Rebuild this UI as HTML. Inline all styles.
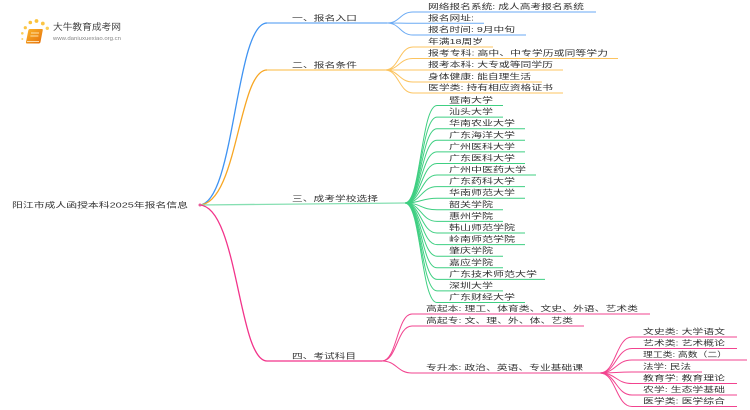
<!DOCTYPE html>
<html><head><meta charset="utf-8"><style>
html,body{margin:0;padding:0;background:#fff;}
svg{display:block;}
text{font-family:"Liberation Sans","Noto Sans CJK SC",sans-serif;fill:#333;}
</style></head><body>
<svg width="750" height="410" viewBox="0 0 750 410" xmlns="http://www.w3.org/2000/svg">
<defs>
<linearGradient id="bk" x1="0" y1="0" x2="1" y2="1"><stop offset="0" stop-color="#fbb52a"/><stop offset="1" stop-color="#e56f0a"/></linearGradient>
<linearGradient id="lg" x1="0" y1="0" x2="1" y2="0"><stop offset="0" stop-color="#ddd"/><stop offset="1" stop-color="#fff"/></linearGradient>
</defs>
<!-- logo -->
<g>
<circle cx="22.3" cy="39" r="1" fill="#fbd46a"/>
<circle cx="22.3" cy="33.3" r="1.3" fill="#fbcf5a"/>
<circle cx="25.3" cy="27.7" r="1.6" fill="#fbc545"/>
<circle cx="30.3" cy="22.5" r="1.8" fill="#fbc23a"/>
<circle cx="36.5" cy="21" r="1.9" fill="#fbc23a"/>
<circle cx="42.8" cy="23.5" r="1.9" fill="#fbc545"/>
<circle cx="47.3" cy="28.3" r="1.7" fill="#fbcf5a"/>
<path d="M30,29 L42,29 Q43,29 42.7,30.5 L40.5,42 Q40.2,43.5 38.8,43.5 L27,43.5 Q25.7,43.5 26,42 L28.3,30.5 Q28.6,29 30,29 Z" fill="url(#bk)"/>
<path d="M31,33 L39,33 M30.4,36 L38.4,36" stroke="#ffe2a8" stroke-width="0.9"/>
<path d="M27,41.5 L39,41.5" stroke="#fff3d8" stroke-width="0.8"/>
<text x="53" y="30" font-size="9" textLength="68" lengthAdjust="spacingAndGlyphs" style="fill:#444">大牛教育成考网</text>
<line x1="52" y1="32.5" x2="134" y2="32.5" stroke="url(#lg)" stroke-width="0.8"/>
<text x="53" y="40" font-size="5" textLength="68" lengthAdjust="spacingAndGlyphs" style="fill:#888">www.daniuxuexiao.org.cn</text>
</g>

<!-- root -->
<text x="12" y="207.5" font-size="7.5" textLength="176" lengthAdjust="spacingAndGlyphs">阳江市成人函授本科2025年报名信息</text>

<!-- main branches -->
<path d="M199,205 C235,205 235,23 267,23" fill="none" stroke="#3f93f2" stroke-width="1.3"/>
<path d="M267,23 H387" fill="none" stroke="#6aaaf4" stroke-width="1.2"/>
<path d="M199,205 C238,205 238,70 267,70" fill="none" stroke="#f7a623" stroke-width="1.3"/>
<path d="M267,70 H385" fill="none" stroke="#fcc865" stroke-width="1.2"/>
<path d="M199,205 L405,203" fill="none" stroke="#86dfb2" stroke-width="1.3"/>
<path d="M199,205 C238,205 238,361 267,361 H382" fill="none" stroke="#f2338a" stroke-width="1.3"/>
<circle cx="200" cy="205" r="1.5" fill="#e85a9a"/>

<g font-size="7.5">
<text x="292" y="20.3" textLength="65" lengthAdjust="spacingAndGlyphs">一、报名入口</text>
<text x="292" y="67.3" textLength="65" lengthAdjust="spacingAndGlyphs">二、报名条件</text>
<text x="292" y="201" textLength="86" lengthAdjust="spacingAndGlyphs">三、成考学校选择</text>
<text x="292" y="358.3" textLength="64" lengthAdjust="spacingAndGlyphs">四、考试科目</text>
</g>

<!-- blue leaves -->
<g fill="none" stroke="#6aaaf4" stroke-width="1">
<path d="M387,23 C400,23 400,12 413,12 H596"/>
<path d="M387,23 C400,23 400,23.3 413,23.3 H484"/>
<path d="M387,23 C400,23 400,35 413,35 H526"/>
</g>
<g font-size="7.5">
<text x="428" y="9" textLength="156" lengthAdjust="spacingAndGlyphs">网络报名系统: 成人高考报名系统</text>
<text x="428" y="20.3" textLength="46" lengthAdjust="spacingAndGlyphs">报名网址:</text>
<text x="428" y="32" textLength="87" lengthAdjust="spacingAndGlyphs">报名时间: 9月中旬</text>
</g>

<!-- orange leaves -->
<g fill="none" stroke="#fcc460" stroke-width="1">
<path d="M385,70 C399,70 399,47 413,47 H493"/>
<path d="M385,70 C399,70 399,58.5 413,58.5 H618"/>
<path d="M385,70 C399,70 399,70 413,70 H563"/>
<path d="M385,70 C399,70 399,82 413,82 H542"/>
<path d="M385,70 C399,70 399,93 413,93 H563"/>
</g>
<g font-size="7.5">
<text x="428" y="44" textLength="55" lengthAdjust="spacingAndGlyphs">年满18周岁</text>
<text x="428" y="55.5" textLength="180" lengthAdjust="spacingAndGlyphs">报考专科: 高中、中专学历或同等学力</text>
<text x="428" y="67" textLength="125" lengthAdjust="spacingAndGlyphs">报考本科: 大专或等同学历</text>
<text x="428" y="79" textLength="103" lengthAdjust="spacingAndGlyphs">身体健康: 能自理生活</text>
<text x="428" y="90" textLength="125" lengthAdjust="spacingAndGlyphs">医学类: 持有相应资格证书</text>
</g>

<!-- green leaves -->
<g fill="none" stroke="#3fcf82" stroke-width="1">
<path d="M405,203 C421,203 421,105.5 437,105.5 H503"/>
<path d="M405,203 C421,203 421,117.1 437,117.1 H503"/>
<path d="M405,203 C421,203 421,128.7 437,128.7 H525"/>
<path d="M405,203 C421,203 421,140.3 437,140.3 H525"/>
<path d="M405,203 C421,203 421,151.9 437,151.9 H525"/>
<path d="M405,203 C421,203 421,163.5 437,163.5 H525"/>
<path d="M405,203 C421,203 421,175 437,175 H536"/>
<path d="M405,203 C421,203 421,186.6 437,186.6 H525"/>
<path d="M405,203 C421,203 421,198.2 437,198.2 H525"/>
<path d="M405,203 C421,203 421,209.8 437,209.8 H503"/>
<path d="M405,203 C421,203 421,221.4 437,221.4 H503"/>
<path d="M405,203 C421,203 421,233 437,233 H525"/>
<path d="M405,203 C421,203 421,244.6 437,244.6 H525"/>
<path d="M405,203 C421,203 421,256.2 437,256.2 H503"/>
<path d="M405,203 C421,203 421,267.8 437,267.8 H503"/>
<path d="M405,203 C421,203 421,279.4 437,279.4 H545"/>
<path d="M405,203 C421,203 421,290.9 437,290.9 H503"/>
<path d="M405,203 C421,203 421,302.5 437,302.5 H525"/>
</g>
<g font-size="7.5">
<text x="449" y="102.5" textLength="44" lengthAdjust="spacingAndGlyphs">暨南大学</text>
<text x="449" y="114.1" textLength="44" lengthAdjust="spacingAndGlyphs">汕头大学</text>
<text x="449" y="125.7" textLength="66" lengthAdjust="spacingAndGlyphs">华南农业大学</text>
<text x="449" y="137.3" textLength="66" lengthAdjust="spacingAndGlyphs">广东海洋大学</text>
<text x="449" y="148.9" textLength="66" lengthAdjust="spacingAndGlyphs">广州医科大学</text>
<text x="449" y="160.5" textLength="66" lengthAdjust="spacingAndGlyphs">广东医科大学</text>
<text x="449" y="172" textLength="77" lengthAdjust="spacingAndGlyphs">广州中医药大学</text>
<text x="449" y="183.6" textLength="66" lengthAdjust="spacingAndGlyphs">广东药科大学</text>
<text x="449" y="195.2" textLength="66" lengthAdjust="spacingAndGlyphs">华南师范大学</text>
<text x="449" y="206.8" textLength="44" lengthAdjust="spacingAndGlyphs">韶关学院</text>
<text x="449" y="218.4" textLength="44" lengthAdjust="spacingAndGlyphs">惠州学院</text>
<text x="449" y="230" textLength="66" lengthAdjust="spacingAndGlyphs">韩山师范学院</text>
<text x="449" y="241.6" textLength="66" lengthAdjust="spacingAndGlyphs">岭南师范学院</text>
<text x="449" y="253.2" textLength="44" lengthAdjust="spacingAndGlyphs">肇庆学院</text>
<text x="449" y="264.8" textLength="44" lengthAdjust="spacingAndGlyphs">嘉应学院</text>
<text x="449" y="276.4" textLength="88" lengthAdjust="spacingAndGlyphs">广东技术师范大学</text>
<text x="449" y="287.9" textLength="44" lengthAdjust="spacingAndGlyphs">深圳大学</text>
<text x="449" y="299.5" textLength="66" lengthAdjust="spacingAndGlyphs">广东财经大学</text>
</g>

<!-- pink leaves -->
<g fill="none" stroke="#f2438f" stroke-width="1">
<path d="M382,361 C397,361 397,314 412,314 H650"/>
<path d="M382,361 C397,361 397,326 412,326 H584"/>
<path d="M382,361 C397,361 397,373 412,373 H600"/>
<path d="M600,373 C616,373 616,337 632,337 H737"/>
<path d="M600,373 C616,373 616,348.5 632,348.5 H737"/>
<path d="M600,373 C616,373 616,360 632,360 H747"/>
<path d="M600,373 C616,373 616,372 632,372 H702"/>
<path d="M600,373 C616,373 616,383.5 632,383.5 H737"/>
<path d="M600,373 C616,373 616,395 632,395 H737"/>
<path d="M600,373 C616,373 616,406.5 632,406.5 H737"/>
</g>
<g font-size="7.5">
<text x="426" y="311" textLength="212" lengthAdjust="spacingAndGlyphs">高起本: 理工、体育类、文史、外语、艺术类</text>
<text x="426" y="323" textLength="147" lengthAdjust="spacingAndGlyphs">高起专: 文、理、外、体、艺类</text>
<text x="426" y="370" textLength="157" lengthAdjust="spacingAndGlyphs">专升本: 政治、英语、专业基础课</text>
<text x="643" y="334" textLength="82" lengthAdjust="spacingAndGlyphs">文史类: 大学语文</text>
<text x="643" y="345.5" textLength="82" lengthAdjust="spacingAndGlyphs">艺术类: 艺术概论</text>
<text x="643" y="357" textLength="84" lengthAdjust="spacingAndGlyphs">理工类: 高数（二）</text>
<text x="643" y="369" textLength="48" lengthAdjust="spacingAndGlyphs">法学: 民法</text>
<text x="643" y="380.5" textLength="82" lengthAdjust="spacingAndGlyphs">教育学: 教育理论</text>
<text x="643" y="392" textLength="82" lengthAdjust="spacingAndGlyphs">农学: 生态学基础</text>
<text x="643" y="403.5" textLength="82" lengthAdjust="spacingAndGlyphs">医学类: 医学综合</text>
</g>
</svg>
</body></html>
